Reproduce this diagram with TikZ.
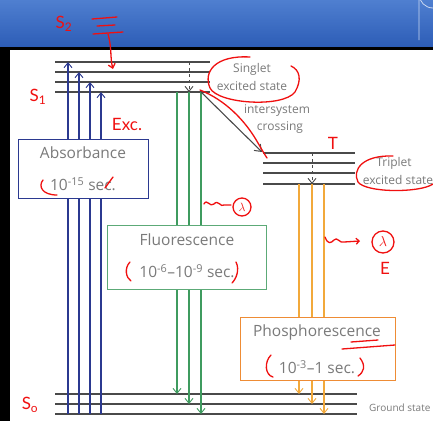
\documentclass[tikz,border=0pt]{standalone}
\usepackage{fontspec}
\setmainfont{Open Sans}
\newfontfamily\handfont{Lato}
\usetikzlibrary{arrows.meta,shapes.geometric}
\definecolor{navyc}{HTML}{2B3990}
\definecolor{greenc}{HTML}{3F9B5F}
\definecolor{orangec}{HTML}{F2A93B}
\definecolor{orangebox}{HTML}{EE8C35}
\definecolor{levelc}{HTML}{4A4A4A}
\definecolor{txtc}{HTML}{7A7A7A}
\definecolor{bandtop}{HTML}{4F7FD0}
\definecolor{bandbot}{HTML}{2C5CB6}
\definecolor{redc}{HTML}{F01010}
\begin{document}
\begin{tikzpicture}[x=1pt,y=-1pt,
  lvl/.style={draw=levelc,line width=1.2pt},
  tip/.style={-{Straight Barb[length=5pt,width=8pt,line width=0.9pt]}},
  absarr/.style={draw=navyc,line width=1.2pt,tip},
  fluarr/.style={draw=greenc,line width=1.2pt,tip},
  phoarr/.style={draw=orangec,line width=1.2pt,tip},
  dasharr/.style={draw=levelc,line width=1pt,dashed,tip},
  iscarr/.style={draw=levelc,line width=1.1pt,-{Straight Barb[length=6pt,width=9pt,line width=1pt]}},
  boxnode/.style={draw,fill=white,line width=1.4pt,inner sep=0pt,anchor=north west},
  lab/.style={text=txtc,font=\fontsize{15.5}{17}\selectfont,inner sep=0pt},
  smalllab/.style={text=txtc,font=\fontsize{12}{14}\selectfont,inner sep=0pt},
  red/.style={draw=redc,line width=1.3pt,line cap=round,line join=round},
  redtxt/.style={text=redc,font=\handfont\fontsize{17}{19}\selectfont,inner sep=0pt}
]
\useasboundingbox (0,0) rectangle (433,421);
% background
\fill[white] (0,0) rectangle (433,421);
\shade[top color=bandtop,bottom color=bandbot] (0,0) rectangle (433,48);
\fill[black] (0,47) rectangle (433,50);
\fill[black] (0,47) rectangle (10,421);
\draw[white!70!bandtop,line width=0.8pt] (433,8) arc[start angle=90,end angle=180,radius=14] -- (419,40);

% coordinates: singlet levels
\foreach \n/\y in {1/62,2/72,3/82,4/92}{
  \coordinate (sL\n) at (55,\y); \coordinate (sR\n) at (210,\y);}
\foreach \n/\y in {1/153,2/163,3/173,4/184}{
  \coordinate (tL\n) at (263,\y); \coordinate (tR\n) at (355,\y);}
\foreach \n/\y in {1/394,2/404,3/414}{
  \coordinate (gL\n) at (55,\y); \coordinate (gR\n) at (357,\y);}
\foreach \n in {1,...,4}{\draw[lvl] (sL\n) -- (sR\n); \draw[lvl] (tL\n) -- (tR\n);}
\foreach \n in {1,...,3}{\draw[lvl] (gL\n) -- (gR\n);}

% absorption
\foreach \n/\x in {1/68,2/79,3/90,4/101}{
  \coordinate (ab\n) at (\x,414); \coordinate (ae\n) at (\x,62+10*\n-10);
  \draw[absarr] (ab\n) -- (ae\n);}
% fluorescence
\foreach \n/\x in {1/177,2/189,3/201}{
  \coordinate (fb\n) at (\x,92); \coordinate (fe\n) at (\x,384+10*\n);
  \draw[fluarr] (fb\n) -- (fe\n);}
% phosphorescence
\foreach \n/\x in {1/299,2/312,3/324}{
  \coordinate (pb\n) at (\x,184); \coordinate (pe\n) at (\x,384+10*\n);
  \draw[phoarr] (pb\n) -- (pe\n);}
% vibrational relaxation
\coordinate (vs1) at (189,62); \coordinate (vs2) at (189,92);
\draw[dasharr] (vs1) -- (vs2);
\coordinate (vt1) at (312,153); \coordinate (vt2) at (312,184);
\draw[dasharr] (vt1) -- (vt2);
% intersystem crossing
\coordinate (isc1) at (201,92); \coordinate (isc2) at (262,152);
\draw[iscarr] (isc1) -- (isc2);

% boxes
\node[boxnode,draw=navyc,minimum width=130pt,minimum height=59pt] (absbox) at (18,139) {};
\node[boxnode,draw=greenc!85!white,minimum width=159pt,minimum height=64pt] (flubox) at (107,225) {};
\node[boxnode,draw=orangebox,minimum width=155pt,minimum height=63pt] (phobox) at (240,317) {};

\node[lab] (absT) at (83,153) {Absorbance};
\node[lab] (absS) at (83,184) {10\textsuperscript{-15} sec.};
\node[lab] (fluT) at (187,240) {Fluorescence};
\node[lab] (fluS) at (187,271) {10\textsuperscript{-6}–10\textsuperscript{-9} sec.};
\node[lab] (phoT) at (317,332) {Phosphorescence};
\node[lab] (phoS) at (317,367) {10\textsuperscript{-3}–1 sec.};

\node[smalllab] (sing1) at (252,69) {Singlet};
\node[smalllab] (sing2) at (252,86) {excited state};
\node[smalllab] (isct1) at (277,111) {intersystem};
\node[smalllab] (isct2) at (280,128) {crossing};
\node[smalllab] (trip1) at (394,163) {Triplet};
\node[smalllab] (trip2) at (398,180) {excited state};
\node[smalllab,anchor=west,font=\fontsize{10}{12}\selectfont] (gs) at (369,408) {Ground state};

% red annotations
\node[redtxt] (rS2) at (64,24) {S\textsubscript{2}};
\draw[red] (92,19) -- (117,17);
\draw[red] (97,26) -- (115,25);
\draw[red] (93,34) -- (123,32);
\draw[red,-{Straight Barb[length=4pt,width=7pt]}] (108,34) .. controls (112,48) and (110,58) .. (113,69);
\node[redtxt] (rS1) at (38,97) {S\textsubscript{1}};
\node[redtxt] (rExc) at (127,124) {Exc.};
\draw[red] (250,57) .. controls (215,55) and (203,72) .. (210,88)
  .. controls (218,104) and (283,108) .. (295,92)
  .. controls (302,80) and (300,70) .. (291,66);
\draw[red] (200,90) .. controls (225,100) and (245,120) .. (258,143) .. controls (262,150) and (265,155) .. (267,158);
\node[redtxt] (rT) at (333,143) {T};
\draw[red] (393,156) .. controls (362,155) and (352,170) .. (358,182)
  .. controls (366,193) and (420,193) .. (433,184);
\draw[red] (43,180) .. controls (38,186) and (42,195) .. (57,195);
\draw[red] (105,188) -- (113,177);
% first lambda
\draw[red] (204,204) .. controls (207,198) and (210,208) .. (214,204) .. controls (218,199) and (221,208) .. (224,205) -- (231,205);
\draw[red] (242,207) circle[radius=9];
\node[redtxt,font=\fontsize{13}{15}\selectfont] (rL1) at (242,207) {$\lambda$};
\draw[red] (130,262) .. controls (124,268) and (126,278) .. (131,281);
\draw[red] (236,262) .. controls (240,270) and (236,279) .. (232,283);
% second lambda
\draw[red,-{Straight Barb[length=3pt,width=6pt]}] (325,237) .. controls (328,245) and (331,243) .. (334,240) .. controls (337,236) and (340,244) .. (344,242) -- (360,241);
\draw[red] (383,242) circle[radius=11];
\node[redtxt,font=\fontsize{14}{16}\selectfont] (rL2) at (383,241) {$\lambda$};
\node[redtxt] (rE) at (385,268) {E};
\draw[red] (271,355) .. controls (264,362) and (265,375) .. (273,377);
\draw[red] (360,358) .. controls (366,366) and (364,372) .. (358,376);
\draw[red] (351,342) -- (378,340);
\draw[red] (342,349) -- (395,345);
\node[redtxt] (rS0) at (30,405) {S\textsubscript{o}};
\end{tikzpicture}
\end{document}
